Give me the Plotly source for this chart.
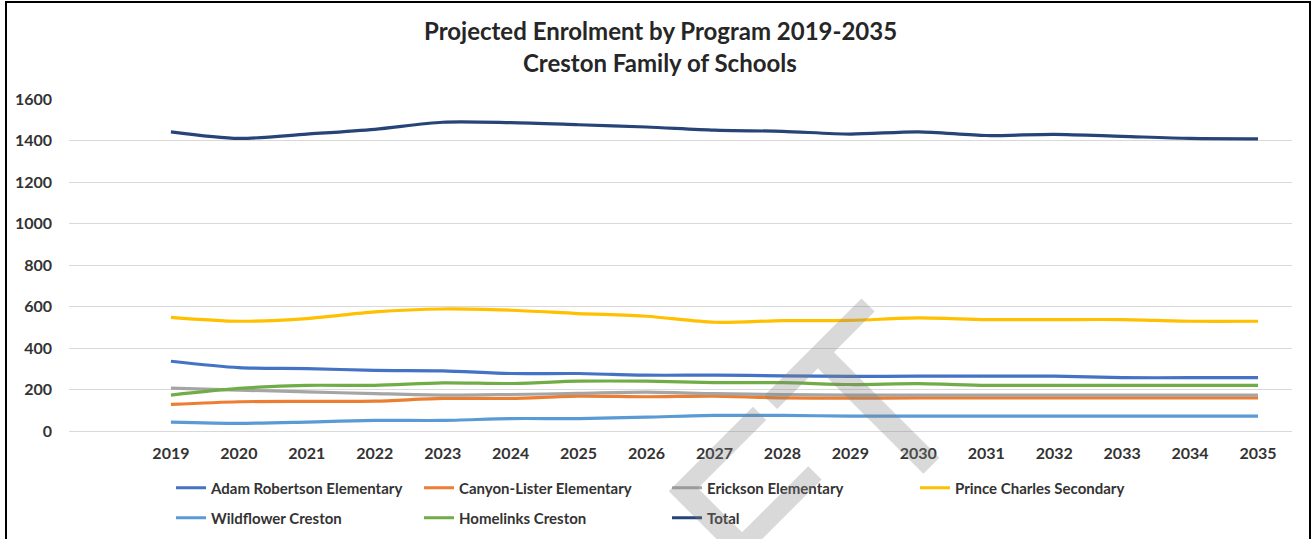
import plotly.graph_objects as go

# ---------------- data ----------------
years = list(range(2019, 2036))
year_labels = [str(y) for y in years]

adam_robertson = [336, 305, 301, 292, 290, 277, 277, 269, 269, 266, 263, 264, 264, 264, 257, 257, 257]
canyon_lister = [128, 141, 143, 144, 157, 157, 168, 165, 168, 160, 158, 160, 160, 160, 160, 160, 160]
erickson = [207, 197, 189, 180, 173, 176, 181, 187, 180, 176, 173, 173, 173, 173, 173, 173, 173]
prince_charles = [548, 529, 542, 574, 588, 582, 566, 553, 524, 532, 533, 545, 537, 537, 537, 529, 529]
wildflower = [43, 37, 43, 51, 51, 60, 60, 67, 75, 75, 72, 72, 72, 72, 72, 72, 72]
homelinks = [173, 205, 220, 220, 232, 229, 240, 240, 233, 233, 224, 228, 220, 220, 220, 220, 220]
total = [1442, 1410, 1431, 1454, 1488, 1486, 1476, 1465, 1450, 1444, 1431, 1442, 1424, 1430, 1420, 1410, 1408]

series_names = ["Adam Robertson Elementary", "Canyon-Lister Elementary", "Erickson Elementary",
                "Prince Charles Secondary", "Wildflower Creston", "Homelinks Creston", "Total"]
series_values = [adam_robertson, canyon_lister, erickson, prince_charles, wildflower, homelinks, total]

y_ticks = [0, 200, 400, 600, 800, 1000, 1200, 1400, 1600]

title_line1 = "Projected Enrolment by Program 2019-2035"
title_line2 = "Creston Family of Schools"
watermark_text = "DRAFT"

# ---------------- styling ----------------
W, H = 1313, 539
ML, MR, MT, MB = 69, 21, 99, 108
PW, PH = W - ML - MR, H - MT - MB

def px_x(x):
    return (x - ML) / PW

def px_y(y):
    return (H - MB - y) / PH

colors = ["#4472C4", "#ED7D31", "#A5A5A5", "#FFC000", "#5B9BD5", "#70AD47", "#264478"]
legend_of = ["legend", "legend", "legend", "legend", "legend2", "legend2", "legend2"]
FONT = "Lato"
TXT = "#333333"

fig = go.Figure()
for name, vals, col, lg in zip(series_names, series_values, colors, legend_of):
    fig.add_trace(go.Scatter(
        x=years, y=vals, name=name, mode="lines",
        line=dict(color=col, width=3.2, shape="spline", smoothing=0.8),
        legend=lg,
    ))

legend_common = dict(
    orientation="h", xanchor="left", yanchor="middle",
    font=dict(family=FONT, size=15, color=TXT, weight="bold"),
    entrywidth=203, entrywidthmode="pixels",
    bgcolor="rgba(0,0,0,0)", borderwidth=0, tracegroupgap=0,
    itemclick=False, itemdoubleclick=False,
)

fig.update_layout(
    width=W, height=H,
    margin=dict(l=ML, r=MR, t=MT, b=MB, pad=0, autoexpand=False),
    paper_bgcolor="white", plot_bgcolor="white",
    showlegend=True,
    legend=dict(x=px_x(171), y=px_y(488), **legend_common),
    legend2=dict(x=px_x(171), y=px_y(518), **legend_common),
    xaxis=dict(
        range=[2017.5, 2035.5], tickmode="array", tickvals=years, ticktext=year_labels,
        showgrid=False, zeroline=False, showline=False,
        ticks="", ticklabelstandoff=11,
        tickfont=dict(family=FONT, size=16, color=TXT, weight="bold"),
        fixedrange=True,
    ),
    yaxis=dict(
        range=[0, 1600], tickmode="array", tickvals=y_ticks,
        showgrid=True, gridcolor="#D9D9D9", gridwidth=1,
        zeroline=True, zerolinecolor="#D9D9D9", zerolinewidth=1,
        showline=False, ticks="", ticklabelstandoff=16,
        tickfont=dict(family=FONT, size=16, color=TXT, weight="bold"),
        fixedrange=True,
    ),
    annotations=[
        dict(text=title_line1, xref="paper", yref="paper", x=px_x(660), y=px_y(31),
             xanchor="center", yanchor="middle", showarrow=False,
             font=dict(family=FONT, size=24, color="#262626", weight="bold")),
        dict(text=title_line2, xref="paper", yref="paper", x=px_x(660), y=px_y(63),
             xanchor="center", yanchor="middle", showarrow=False,
             font=dict(family=FONT, size=24, color="#262626", weight="bold")),
        dict(text=watermark_text, xref="paper", yref="paper", x=px_x(636), y=px_y(641),
             xanchor="center", yanchor="middle", showarrow=False, textangle=-45,
             font=dict(family="Liberation Sans", size=244, color="rgba(128,128,128,0.3)")),
    ],
    shapes=[
        dict(type="rect", xref="paper", yref="paper",
             x0=px_x(6), x1=px_x(1310), y0=px_y(2), y1=px_y(560),
             line=dict(color="#000000", width=2), fillcolor="rgba(0,0,0,0)", layer="above"),
    ],
)

fig.write_html(
    "out.html",
    config={"displayModeBar": False},
    post_script="document.body.style.margin='0';document.body.style.overflow='hidden';",
)
